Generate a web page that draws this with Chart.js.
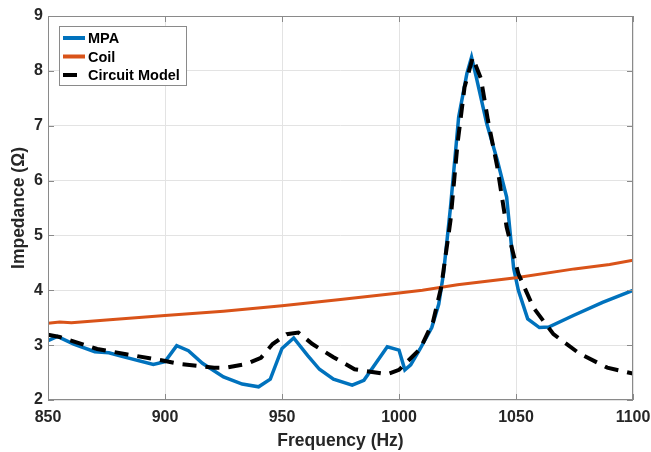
<!DOCTYPE html>
<html>
<head>
<meta charset="utf-8">
<script src="https://cdn.jsdelivr.net/npm/chart.js@4.4.1/dist/chart.umd.min.js"></script>
<style>
 body{margin:0;background:#fff;}
 #wrap{width:651px;height:452px;}
</style>
</head>
<body>
<div id="wrap"><canvas id="cv" width="651" height="452"></canvas></div>
<script>
/* ----- DATA ----- */
const mpaFreq=[850,854,861,870,876,882,895,900,905,910,916,925,933,940,945,950,955,961,966,972,980,985,995,1000,1002.5,1005,1009,1014,1017,1019,1022,1025.5,1029,1031,1033,1037.5,1042,1046,1049,1051,1055,1060,1064,1074.5,1087,1100];
const mpaZ=[3.08,3.16,3.02,2.88,2.86,2.79,2.65,2.70,2.99,2.90,2.67,2.42,2.29,2.24,2.38,2.94,3.13,2.81,2.56,2.38,2.27,2.36,2.97,2.91,2.55,2.64,2.93,3.32,3.75,4.30,5.51,7.16,7.95,8.25,7.89,7.04,6.37,5.70,4.40,4.00,3.48,3.32,3.33,3.54,3.78,4.00];

const coilFreq=[850,855,860,875,900,925,950,975,1000,1010,1025,1050,1075,1090,1100];
const coilZ=[3.40,3.42,3.41,3.46,3.54,3.62,3.72,3.83,3.95,4.00,4.10,4.23,4.39,4.47,4.55];

const modelFreq=[850,855,871,884,899,906,921,926,935,941,946,952,957,963,972,981,995,1000,1009,1014.5,1018,1022,1025,1028,1031.5,1035,1038,1042,1046,1051,1057.5,1066,1077,1089,1100];
const modelZ=[3.19,3.15,2.93,2.83,2.72,2.66,2.59,2.59,2.66,2.77,3.02,3.20,3.23,3.02,2.78,2.56,2.47,2.55,2.93,3.42,4.05,5.27,6.67,7.70,8.24,7.86,7.10,6.25,5.15,4.30,3.68,3.20,2.85,2.59,2.48];

const xTicks=[850,900,950,1000,1050,1100];
const yTicks=[2,3,4,5,6,7,8,9];

const pts=(xs,ys)=>xs.map((x,i)=>({x:x,y:ys[i]}));

/* ----- PLUGINS ----- */
const boxPlugin={
 id:'box',
 afterDatasetsDraw(c){
  const a=c.chartArea, ctx=c.ctx;
  const xs=c.scales.x, ys=c.scales.y;
  ctx.save();
  ctx.strokeStyle='#8a8a8a';
  ctx.lineWidth=1;
  ctx.strokeRect(Math.round(a.left)+0.5,Math.round(a.top)+0.5,
   Math.round(a.right-a.left)-1,Math.round(a.bottom-a.top)-1);
  ctx.beginPath();
  xTicks.forEach(v=>{
   const px=Math.round(xs.getPixelForValue(v))+0.5;
   ctx.moveTo(px,a.bottom);ctx.lineTo(px,a.bottom-6);
   ctx.moveTo(px,a.top);ctx.lineTo(px,a.top+6);
  });
  yTicks.forEach(v=>{
   const py=Math.round(ys.getPixelForValue(v))+0.5;
   ctx.moveTo(a.left,py);ctx.lineTo(a.left+6,py);
   ctx.moveTo(a.right,py);ctx.lineTo(a.right-6,py);
  });
  ctx.stroke();
  ctx.restore();
 }
};

const legendBox={
 id:'legendBox',
 afterDraw(c){
  const ctx=c.ctx;
  ctx.save();
  ctx.fillStyle='#fff';
  ctx.fillRect(59.5,26.5,127,59);
  ctx.strokeStyle='#8a8a8a';
  ctx.lineWidth=1;
  ctx.strokeRect(59.5,26.5,127,59);
  c.data.datasets.forEach((d,i)=>{
   const y=38+i*18.5;
   ctx.beginPath();
   ctx.strokeStyle=d.borderColor;
   ctx.lineWidth=4;
   ctx.setLineDash(d.borderDash||[]);
   ctx.moveTo(63,y);ctx.lineTo(85,y);
   ctx.stroke();
   ctx.setLineDash([]);
   ctx.fillStyle='#000';
   ctx.font='bold 14.5px "Liberation Sans", Arial, sans-serif';
   ctx.textAlign='left';
   ctx.textBaseline='middle';
   ctx.fillText(d.label,88,y+1);
  });
  ctx.restore();
 }
};

/* ----- CHART ----- */
const tickFont={family:'"Liberation Sans", Arial, sans-serif',size:16,weight:'bold'};
const titleFont={family:'"Liberation Sans", Arial, sans-serif',size:17.5,weight:'bold'};

const chart=new Chart(document.getElementById('cv'),{
 type:'line',
 data:{
  datasets:[
   {label:'MPA',data:pts(mpaFreq,mpaZ),borderColor:'#0072BD',borderWidth:3.5,order:3},
   {label:'Coil',data:pts(coilFreq,coilZ),borderColor:'#D95319',borderWidth:3,order:2},
   {label:'Circuit Model',data:pts(modelFreq,modelZ),borderColor:'#000000',borderWidth:4,borderDash:[14,9],order:1}
  ]
 },
 options:{
  responsive:false,
  animation:false,
  layout:{padding:{top:16,right:18,left:0,bottom:0}},
  elements:{point:{radius:0},line:{tension:0,fill:false}},
  plugins:{legend:{display:false},tooltip:{enabled:false}},
  scales:{
   x:{
    type:'linear',min:850,max:1100,
    afterBuildTicks:s=>{s.ticks=xTicks.map(v=>({value:v}));},
    afterFit:s=>{s.height=52;s.paddingLeft=0;s.paddingRight=0;},
    ticks:{font:tickFont,color:'#262626',padding:8,maxRotation:0,callback:v=>String(v)},
    grid:{color:'#e3e3e3',drawTicks:false},
    border:{display:false},
    title:{display:true,text:'Frequency (Hz)',font:titleFont,color:'#262626',padding:{top:0,bottom:0}}
   },
   y:{
    type:'linear',min:2,max:9,
    afterBuildTicks:s=>{s.ticks=yTicks.map(v=>({value:v}));},
    afterFit:s=>{s.width=48;s.paddingTop=0;s.paddingBottom=0;},
    ticks:{font:tickFont,color:'#262626',padding:5,callback:v=>String(v)},
    grid:{color:'#e3e3e3',drawTicks:false},
    border:{display:false},
    title:{display:true,text:'Impedance (Ω)',font:titleFont,color:'#262626',padding:{top:9,bottom:0}}
   }
  }
 },
 plugins:[boxPlugin,legendBox]
});
</script>
</body>
</html>
